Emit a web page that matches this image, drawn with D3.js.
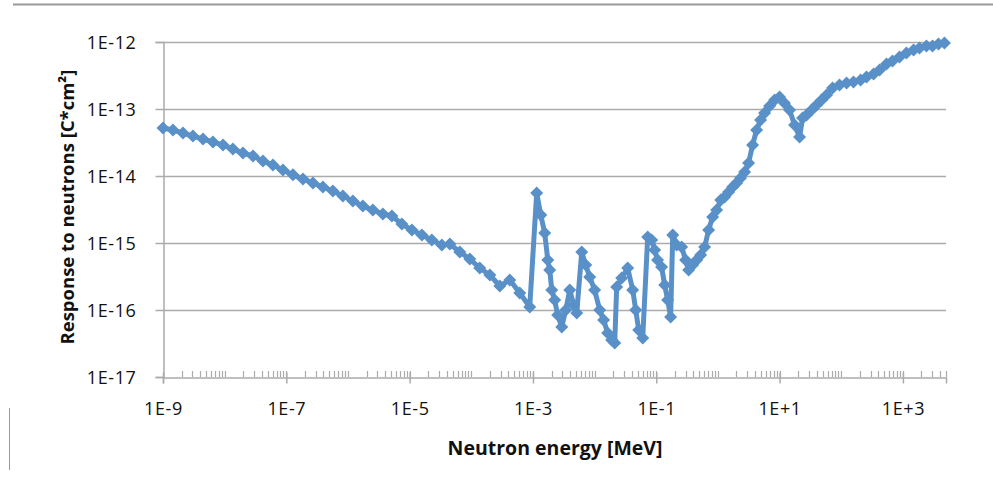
<!DOCTYPE html>
<html>
<head>
<meta charset="utf-8">
<script src="https://cdn.jsdelivr.net/npm/d3@7"></script>
<style>
  body { margin: 0; background: #fff; }
  text { font-family: "Open Sans", "Liberation Sans", sans-serif; fill: #111; }
</style>
</head>
<body>
<div id="chart"></div>
<script>
// Neutron energy [MeV]
var energy = [
  1.0e-9, 1.45e-9, 2.11e-9, 3.06e-9, 4.45e-9, 6.46e-9, 9.39e-9, 1.36e-8, 1.98e-8, 2.88e-8,
  4.18e-8, 6.07e-8, 8.81e-8, 1.28e-7, 1.86e-7, 2.70e-7, 3.92e-7, 5.69e-7, 8.26e-7, 1.20e-6,
  1.74e-6, 2.53e-6, 3.68e-6, 5.15e-6, 7.48e-6, 1.09e-5, 1.58e-5, 2.29e-5, 3.33e-5, 4.49e-5,
  6.52e-5, 9.46e-5, 1.37e-4, 2.00e-4, 2.90e-4, 4.21e-4, 6.11e-4, 8.87e-4,
  1.15e-3, 1.34e-3, 1.55e-3, 1.74e-3, 1.87e-3, 2.02e-3, 2.25e-3, 2.52e-3, 2.93e-3, 3.40e-3,
  3.95e-3, 4.58e-3, 5.13e-3, 6.18e-3, 7.18e-3, 8.32e-3, 1.00e-2, 1.21e-2, 1.40e-2, 1.63e-2,
  1.89e-2, 2.12e-2, 2.28e-2, 2.75e-2, 3.44e-2, 4.15e-2, 4.64e-2, 5.19e-2, 6.03e-2, 7.26e-2,
  8.42e-2, 9.42e-2, 0.105, 0.122, 0.137, 0.153, 0.171, 0.185, 0.214, 0.258,
  0.299, 0.335, 0.389, 0.452, 0.524, 0.608, 0.706, 0.820, 0.952, 1.11,
  1.28, 1.49, 1.73, 2.01, 2.33, 2.71, 3.14, 3.65, 4.24, 4.92,
  5.71, 6.89, 8.30, 10.0, 12.0, 14.5, 17.5, 21.1, 23.6, 27.4,
  33.0, 39.8, 48.0, 57.8, 72.3, 93.8, 122, 158, 206, 257,
  334, 418, 542, 678, 881, 1140, 1490, 1860, 2410, 3020,
  3780, 4720
];

// Response to neutrons [C*cm2]
var response = [
  5.2e-14, 4.86e-14, 4.38e-14, 3.95e-14, 3.56e-14, 3.22e-14, 2.90e-14, 2.53e-14, 2.20e-14, 1.99e-14,
  1.67e-14, 1.46e-14, 1.23e-14, 1.04e-14, 9.02e-15, 7.87e-15, 6.86e-15, 5.97e-15, 5.03e-15, 4.24e-15,
  3.56e-15, 3.11e-15, 2.71e-15, 2.53e-15, 1.92e-15, 1.56e-15, 1.32e-15, 1.11e-15, 9.33e-16, 9.66e-16,
  7.34e-16, 5.77e-16, 4.24e-16, 3.33e-16, 2.28e-16, 2.81e-16, 1.80e-16, 1.11e-16,
  5.57e-15, 2.62e-15, 1.41e-15, 5.57e-16, 3.95e-16, 1.99e-16, 1.41e-16, 8.42e-17, 5.57e-17, 1.00e-16,
  1.99e-16, 1.19e-16, 9.02e-17, 7.34e-16, 4.69e-16, 3.11e-16, 1.99e-16, 1.00e-16, 7.10e-17, 4.54e-17,
  3.56e-17, 3.22e-17, 2.20e-16, 3.00e-16, 4.24e-16, 1.99e-16, 1.00e-16, 5.03e-17, 3.82e-17, 1.23e-15,
  1.11e-15, 7.87e-16, 5.57e-16, 4.38e-16, 2.36e-16, 1.41e-16, 7.87e-17, 1.32e-15, 9.33e-16, 8.71e-16,
  5.57e-16, 3.95e-16, 4.69e-16, 5.57e-16, 6.62e-16, 8.71e-16, 1.56e-15, 2.44e-15, 3.11e-15, 4.38e-15,
  4.86e-15, 5.77e-15, 6.86e-15, 7.87e-15, 9.33e-15, 1.15e-14, 1.56e-14, 2.90e-14, 4.86e-14, 6.85e-14,
  8.71e-14, 1.11e-13, 1.36e-13, 1.51e-13, 1.23e-13, 9.66e-14, 5.77e-14, 3.82e-14, 7.34e-14, 8.13e-14,
  9.66e-14, 1.15e-13, 1.36e-13, 1.62e-13, 2.06e-13, 2.28e-13, 2.44e-13, 2.53e-13, 2.71e-13, 3.00e-13,
  3.33e-13, 3.82e-13, 4.69e-13, 5.20e-13, 5.97e-13, 6.85e-13, 7.60e-13, 8.14e-13, 8.72e-13, 8.72e-13,
  9.33e-13, 9.66e-13
];

var xMajor = [1e-9, 1e-7, 1e-5, 1e-3, 1e-1, 1e1, 1e3];
var xMajorLabels = ["1E-9", "1E-7", "1E-5", "1E-3", "1E-1", "1E+1", "1E+3"];
var yTicks = [1e-17, 1e-16, 1e-15, 1e-14, 1e-13, 1e-12];
var yTickLabels = ["1E-17", "1E-16", "1E-15", "1E-14", "1E-13", "1E-12"];

var width = 993, height = 501;
var blue = "#5990c8";
var grid = "#ababab";

var svg = d3.select("#chart").append("svg")
    .attr("width", width)
    .attr("height", height);

// frame lines of the original screenshot
svg.append("line").attr("x1", 13).attr("x2", 993).attr("y1", 4.5).attr("y2", 4.5)
    .style("stroke", "#9a9a9a").style("stroke-width", 2);
svg.append("line").attr("x1", 9.5).attr("x2", 9.5).attr("y1", 408).attr("y2", 470)
    .style("stroke", "#9a9a9a").style("stroke-width", 1);

var x = d3.scaleLog().domain([1e-9, 5000]).range([163, 946]);
var y = d3.scaleLog().domain([1e-17, 1e-12]).range([377, 42]);

// horizontal gridlines
svg.append("g").selectAll("line")
    .data(yTicks.slice(1))
    .enter().append("line")
    .attr("x1", x.range()[0]).attr("x2", x.range()[1])
    .attr("y1", function(d) { return Math.round(y(d)) + 0.5; })
    .attr("y2", function(d) { return Math.round(y(d)) + 0.5; })
    .style("stroke", grid).style("stroke-width", 1.5);

// y axis
var yAxis = svg.append("g")
    .attr("transform", "translate(163.5,0)")
    .call(d3.axisLeft(y).tickValues(yTicks)
        .tickFormat(function(d, i) { return yTickLabels[i]; })
        .tickSize(8).tickPadding(19));
yAxis.select(".domain").style("stroke", grid).style("stroke-width", 1.5);
yAxis.selectAll(".tick line").style("stroke", grid).style("stroke-width", 1.5);
yAxis.selectAll(".tick text").style("font-size", "18px").attr("dy", "0.36em")
    .style("letter-spacing", "0.6px")
    .style("font-family", "'Open Sans', sans-serif").style("fill", "#111");

// minor x ticks (2..10 in every decade), pointing up into the plot
var minor = [];
for (var e = -9; e < 4; e++) {
  for (var m = 2; m <= 10; m++) {
    var v = m * Math.pow(10, e);
    if (v <= 5000.001) minor.push(v);
  }
}
svg.append("g").selectAll("line")
    .data(minor)
    .enter().append("line")
    .attr("x1", function(d) { return Math.round(x(d)) + 0.5; })
    .attr("x2", function(d) { return Math.round(x(d)) + 0.5; })
    .attr("y1", 371).attr("y2", 377)
    .style("stroke", grid).style("stroke-width", 1.2);

// x axis
var xAxis = svg.append("g")
    .attr("transform", "translate(0,377.5)")
    .call(d3.axisBottom(x).tickValues(xMajor)
        .tickFormat(function(d, i) { return xMajorLabels[i]; })
        .tickSize(6).tickPadding(19));
xAxis.select(".domain").style("stroke", grid).style("stroke-width", 1.5);
xAxis.selectAll(".tick line").attr("y1", -5).style("stroke", grid).style("stroke-width", 1.5);
xAxis.selectAll(".tick text").style("font-size", "18px")
    .style("letter-spacing", "0.6px")
    .style("font-family", "'Open Sans', sans-serif").style("fill", "#111");

// series
var pts = energy.map(function(d, i) { return [d, response[i]]; });

var line = d3.line()
    .x(function(d) { return x(d[0]); })
    .y(function(d) { return y(d[1]); });

svg.append("path")
    .datum(pts)
    .attr("d", line)
    .style("fill", "none")
    .style("stroke", blue)
    .style("stroke-width", 5)
    .style("stroke-linejoin", "round");

var r = 6.5;
svg.append("g").selectAll("path")
    .data(pts)
    .enter().append("path")
    .attr("transform", function(d) { return "translate(" + x(d[0]) + "," + y(d[1]) + ")"; })
    .attr("d", "M0," + (-r) + "L" + r + ",0L0," + r + "L" + (-r) + ",0Z")
    .style("fill", blue);

// axis titles
svg.append("text")
    .attr("x", 555).attr("y", 455)
    .attr("text-anchor", "middle")
    .style("font-size", "19.5px").style("font-weight", "bold")
    .text("Neutron energy [MeV]");

svg.append("text")
    .attr("transform", "translate(74,207) rotate(-90)")
    .attr("text-anchor", "middle")
    .style("font-size", "18.5px").style("font-weight", "bold")
    .text("Response to neutrons [C*cm²]");
</script>
</body>
</html>
